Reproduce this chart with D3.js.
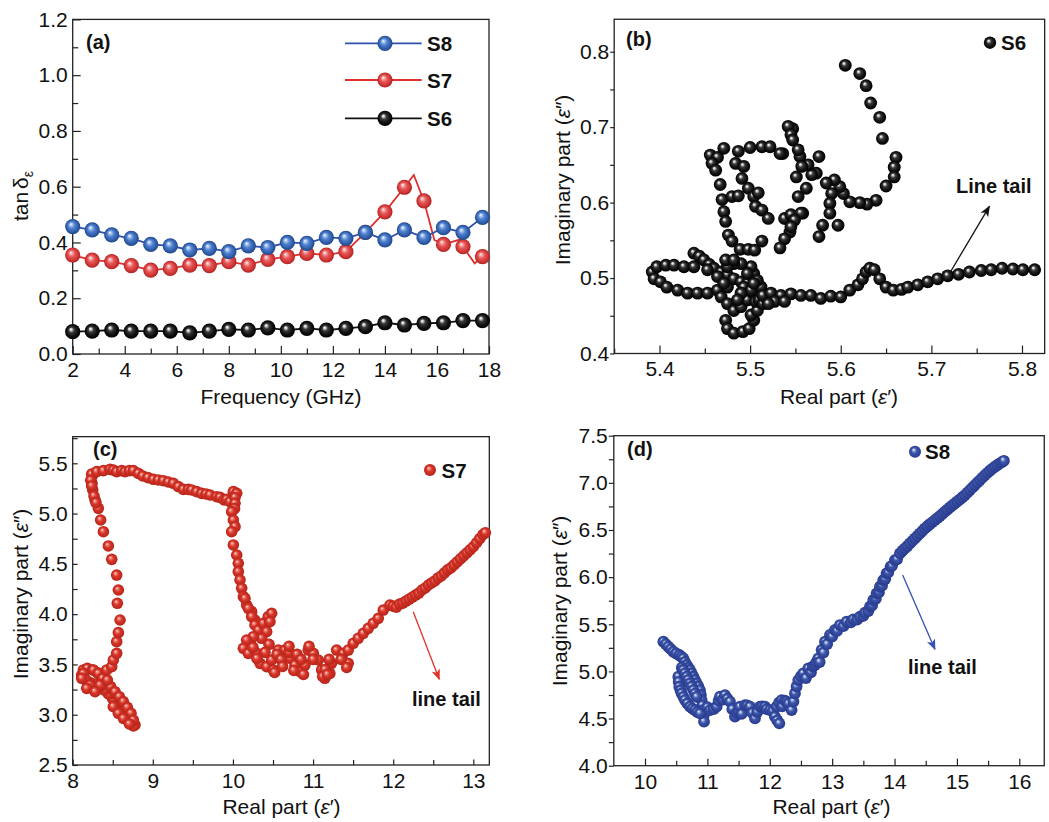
<!DOCTYPE html>
<html>
<head>
<meta charset="utf-8">
<script src="https://cdn.jsdelivr.net/npm/d3@7"></script>
<style>
  html, body { margin: 0; padding: 0; background: #fff; }
  svg { display: block; }
</style>
</head>
<body>
<svg id="fig" width="1049" height="822"></svg>
<script>
// ---------- (a) dielectric loss tangent vs frequency ----------
const freqGHz = [2, 2.75, 3.5, 4.25, 5, 5.75, 6.5, 7.25, 8, 8.75, 9.5, 10.25, 11, 11.75, 12.5, 13.25, 14, 14.75, 15.5, 16.25, 17, 17.75];
const tanS8 = [0.457, 0.445, 0.427, 0.415, 0.393, 0.388, 0.373, 0.379, 0.367, 0.388, 0.382, 0.400, 0.397, 0.418, 0.415, 0.436, 0.409, 0.445, 0.418, 0.453, 0.436, 0.490];
const tanS7 = [0.355, 0.337, 0.331, 0.317, 0.301, 0.307, 0.319, 0.317, 0.331, 0.319, 0.339, 0.349, 0.361, 0.355, 0.367, 0.436, 0.510, 0.598, 0.549, 0.393, 0.385, 0.349];
const tanS6 = [0.080, 0.082, 0.086, 0.082, 0.082, 0.082, 0.076, 0.082, 0.088, 0.086, 0.094, 0.086, 0.092, 0.086, 0.092, 0.098, 0.112, 0.104, 0.110, 0.112, 0.120, 0.120];
// S7 trace is sampled more finely than its symbols
const s7TraceFreq = [2, 2.75, 3.5, 4.25, 5, 5.75, 6.5, 7.25, 8, 8.75, 9.5, 10.25, 11, 11.75, 12.5, 13.25, 14, 14.75, 15.11, 15.5, 15.9, 16.25, 16.9, 17, 17.45, 17.75];
const s7TraceTan  = [0.355, 0.337, 0.331, 0.317, 0.301, 0.307, 0.319, 0.317, 0.331, 0.319, 0.339, 0.349, 0.361, 0.355, 0.367, 0.436, 0.510, 0.598, 0.642, 0.549, 0.409, 0.393, 0.411, 0.385, 0.325, 0.349];
const freqTicks = [2, 4, 6, 8, 10, 12, 14, 16, 18];
const tanTicks = [0, 0.2, 0.4, 0.6, 0.8, 1.0, 1.2];

// ---------- (b) Cole-Cole plot, S6 ----------
const s6Points = [
  [5.605,0.782],[5.621,0.771],[5.628,0.755],[5.633,0.732],[5.643,0.713],[5.646,0.685],
  [5.661,0.660],[5.659,0.647],[5.659,0.634],[5.650,0.622],[5.639,0.603],[5.629,0.598],[5.621,0.600],[5.610,0.601],[5.603,0.612],[5.599,0.621],[5.593,0.630],
  [5.590,0.612],[5.588,0.599],[5.588,0.586],[5.597,0.570],[5.580,0.570],[5.576,0.555],[5.584,0.626],[5.573,0.639],[5.568,0.637],[5.576,0.661],[5.564,0.650],
  [5.555,0.661],[5.547,0.698],[5.542,0.701],[5.545,0.690],[5.547,0.683],[5.553,0.670],[5.557,0.648],[5.551,0.634],[5.562,0.619],[5.553,0.608],[5.558,0.586],
  [5.549,0.581],[5.540,0.579],[5.544,0.561],[5.536,0.665],[5.538,0.552],[5.533,0.540],
  [5.456,0.663],[5.464,0.660],[5.471,0.672],[5.487,0.668],[5.500,0.673],[5.513,0.674],[5.522,0.674],[5.533,0.665],
  [5.458,0.652],[5.462,0.643],[5.467,0.624],[5.469,0.604],[5.471,0.588],[5.473,0.575],[5.476,0.557],[5.480,0.549],[5.489,0.538],[5.498,0.538],[5.505,0.537],[5.513,0.549],
  [5.484,0.652],[5.493,0.648],[5.491,0.632],[5.498,0.619],[5.504,0.608],[5.509,0.613],[5.506,0.595],[5.513,0.590],[5.520,0.579],
  [5.538,0.579],[5.545,0.584],[5.556,0.586],[5.549,0.577],[5.545,0.568],[5.480,0.608],[5.487,0.609],
  [5.392,0.508],[5.394,0.499],[5.397,0.515],[5.407,0.517],[5.416,0.517],[5.427,0.515],[5.438,0.515],
  [5.401,0.495],[5.408,0.488],[5.420,0.484],[5.431,0.480],[5.442,0.480],[5.453,0.480],[5.464,0.484],[5.475,0.488],
  [5.438,0.533],[5.444,0.529],[5.449,0.524],[5.455,0.518],[5.460,0.513],[5.468,0.508],[5.475,0.504],[5.482,0.499],[5.490,0.495],[5.497,0.493],
  [5.453,0.511],[5.464,0.502],[5.471,0.493],[5.468,0.475],[5.475,0.466],[5.482,0.457],[5.490,0.462],[5.497,0.471],[5.504,0.480],
  [5.504,0.506],[5.501,0.515],[5.490,0.519],[5.482,0.519],[5.475,0.515],[5.473,0.524],[5.482,0.524],
  [5.473,0.444],[5.475,0.433],[5.482,0.427],[5.492,0.429],[5.499,0.433],[5.504,0.444],[5.501,0.451],[5.508,0.457],[5.506,0.469],[5.512,0.488],[5.508,0.497],
  [5.497,0.506],[5.493,0.488],[5.501,0.484],[5.490,0.480],[5.486,0.471],[5.504,0.493],[5.510,0.471],[5.514,0.466],[5.519,0.471],
  [5.514,0.477],[5.523,0.480],[5.534,0.477],[5.545,0.479],[5.556,0.477],[5.567,0.477],[5.578,0.473],[5.589,0.476],[5.600,0.475],
  [5.527,0.469],[5.538,0.469],[5.520,0.466],
  [5.610,0.484],[5.619,0.491],[5.624,0.499],[5.628,0.508],[5.632,0.513],[5.637,0.511],[5.643,0.499],[5.650,0.488],[5.658,0.484],
  [5.667,0.485],[5.674,0.488],[5.685,0.491],[5.696,0.495],[5.707,0.499],[5.718,0.503],[5.730,0.505],[5.742,0.508],[5.755,0.510],
  [5.766,0.511],[5.778,0.513],[5.790,0.512],[5.801,0.511],[5.814,0.511]
];
const s6RealTicks = [5.4, 5.5, 5.6, 5.7, 5.8];
const s6ImagTicks = [0.4, 0.5, 0.6, 0.7, 0.8];

// ---------- (c) Cole-Cole plot, S7 ----------
const s7Points = [
  [8.778,2.898],[8.757,2.888],[8.736,2.938],[8.724,2.931],[8.695,2.981],[8.682,2.981],[8.653,3.020],[8.641,3.030],[8.599,3.063],[8.591,3.080],
  [8.549,3.113],[8.549,3.146],[8.499,3.160],[8.487,3.213],[8.445,3.206],[8.424,3.262],[8.391,3.246],[8.341,3.279],[8.279,3.305],[8.216,3.319],
  [8.154,3.352],[8.112,3.395],[8.133,3.445],[8.183,3.461],[8.250,3.445],[8.308,3.418],[8.362,3.378],[8.416,3.329],[8.474,3.279],[8.528,3.229],
  [8.582,3.179],[8.632,3.130],[8.682,3.073],[8.728,3.014],[8.757,2.947],[8.133,3.411],[8.166,3.345],[8.216,3.295],[8.258,3.445],[8.320,3.411],
  [8.374,3.362],[8.341,3.295],[8.433,3.345],[8.112,3.362],[8.175,3.262],[8.279,3.229],[8.507,3.080],[8.570,3.014],[8.632,2.964],[8.707,2.908],
  [8.424,3.445],[8.487,3.478],[8.507,3.544],[8.549,3.610],[8.549,3.726],[8.570,3.816],[8.591,3.942],[8.557,4.108],[8.570,4.240],[8.549,4.389],
  [8.487,4.545],[8.445,4.678],[8.383,4.820],[8.349,4.936],[8.320,5.052],[8.279,5.135],[8.250,5.235],[8.241,5.301],[8.250,5.384],
  [8.237,5.392],[8.225,5.331],[8.237,5.275],[8.266,5.175],[8.291,5.109],
  [8.300,5.417],[8.383,5.427],[8.466,5.440],[8.507,5.433],[8.549,5.417],[8.611,5.427],[8.653,5.417],[8.707,5.427],[8.757,5.427],[8.820,5.400],
  [8.874,5.374],[8.940,5.358],[9.007,5.341],[9.069,5.334],[9.131,5.327],[9.194,5.314],[9.256,5.301],[9.319,5.268],[9.381,5.241],[9.444,5.241],
  [9.485,5.235],[9.548,5.218],[9.610,5.201],[9.664,5.195],[9.714,5.185],[9.797,5.168],[9.839,5.161],[9.889,5.135],[9.922,5.142],[9.963,5.118],
  [10.005,5.218],[10.047,5.201],[10.026,5.160],[10.026,5.102],[10.020,5.050],[9.984,5.019],[10.005,4.936],[10.026,4.870],[9.984,4.820],[10.005,4.688],
  [10.047,4.588],[10.067,4.505],[10.067,4.422],[10.088,4.340],[10.109,4.257],[10.130,4.174],[10.171,4.091],[10.234,4.025],[10.275,3.942],
  [10.150,4.157],[10.192,4.058],[10.234,3.975],[10.275,3.892],[10.317,3.842],[10.379,3.909],[10.441,3.975],[10.483,4.008],[10.462,3.925],
  [10.421,3.826],[10.358,3.760],[10.254,3.776],[10.171,3.743],[10.130,3.660],[10.192,3.610],[10.296,3.610],[10.338,3.511],[10.421,3.478],
  [10.504,3.445],[10.483,3.544],[10.566,3.643],[10.649,3.643],[10.712,3.561],[10.774,3.494],[10.836,3.428],[10.899,3.494],[10.940,3.643],
  [11.003,3.610],[11.065,3.544],[11.107,3.445],[11.148,3.362],[11.210,3.411],[11.231,3.511],[11.294,3.643],[11.377,3.610],[11.439,3.511],
  [11.439,3.643],[10.550,3.600],[10.600,3.550],[10.700,3.620],[10.800,3.600],[10.850,3.550],[11.000,3.550],[11.150,3.450],[11.200,3.550],
  [11.350,3.550],[10.450,3.700],[10.400,3.620],[10.250,3.670],[10.520,3.420],[10.620,3.480],[10.760,3.440],[10.880,3.400],[11.120,3.380],
  [11.180,3.400],[11.420,3.470],[10.300,3.560],[10.700,3.680],[10.950,3.680],
  [11.502,3.710],[11.564,3.760],[11.627,3.809],[11.689,3.859],[11.751,3.909],[11.814,3.958],[11.876,4.041],[11.959,4.091],
  [12.000,4.080],[12.040,4.070],[12.080,4.100],[12.120,4.110],[12.160,4.130],[12.200,4.150],[12.240,4.170],[12.280,4.190],[12.320,4.210],
  [12.360,4.240],[12.400,4.260],[12.440,4.290],[12.480,4.310],[12.520,4.330],[12.560,4.360],[12.600,4.380],[12.640,4.410],[12.680,4.440],
  [12.720,4.460],[12.760,4.490],[12.800,4.520],[12.840,4.550],[12.880,4.580],[12.920,4.610],[12.960,4.640],[13.000,4.670],[13.040,4.710],
  [13.080,4.750],[13.120,4.790],[13.150,4.810]
];
const s7RealTicks = [8, 9, 10, 11, 12, 13];
const s7ImagTicks = [2.5, 3.0, 3.5, 4.0, 4.5, 5.0, 5.5];

// ---------- (d) Cole-Cole plot, S8 ----------
const s8Points = [
  [10.294,5.315],[10.334,5.290],[10.374,5.262],[10.414,5.236],[10.454,5.209],[10.500,5.190],[10.550,5.174],[10.584,5.156],[10.614,5.138],
  [10.640,5.100],[10.668,5.068],[10.695,5.040],[10.721,5.015],[10.748,4.980],[10.775,4.944],[10.800,4.910],[10.828,4.873],[10.855,4.840],
  [10.881,4.802],[10.895,4.750],[10.908,4.696],[10.920,4.640],[10.935,4.590],[10.940,4.530],[10.946,4.467],
  [10.534,4.944],[10.540,4.890],[10.550,4.838],[10.570,4.800],[10.588,4.767],[10.615,4.730],[10.641,4.696],[10.680,4.660],[10.721,4.626],
  [10.760,4.605],[10.801,4.590],[10.840,4.570],[10.881,4.555],
  [10.590,5.040],[10.614,5.015],[10.640,4.980],[10.668,4.944],[10.695,4.910],[10.721,4.873],[10.748,4.840],[10.775,4.802],[10.800,4.765],[10.828,4.731],
  [11.000,4.620],[11.042,4.590],[11.100,4.600],[11.149,4.626],[11.180,4.690],[11.202,4.732],[11.250,4.700],[11.282,4.749],[11.320,4.710],
  [11.362,4.679],[11.400,4.600],[11.442,4.520],[11.470,4.560],[11.500,4.580],[11.522,4.626],[11.550,4.550],[11.603,4.643],[11.640,4.640],
  [11.683,4.626],[11.720,4.560],[11.763,4.502],[11.800,4.570],[11.843,4.626],[11.880,4.630],[11.923,4.626],[11.950,4.600],[12.003,4.590],
  [12.050,4.580],[12.083,4.520],[12.120,4.480],[12.153,4.449],[12.110,4.626],[12.150,4.670],[12.190,4.696],[12.200,4.630],[12.240,4.690],
  [12.270,4.679],[12.300,4.660],[12.350,4.590],[12.380,4.680],[12.404,4.767],[12.430,4.840],[12.457,4.908],[12.500,4.950],[12.537,4.979],
  [12.580,4.930],[12.618,5.032],[12.660,4.990],[12.690,5.050],[12.724,5.068],[12.750,5.100],[12.778,5.138],[12.800,5.100],[12.831,5.227],
  [12.860,5.200],[12.885,5.315],[12.920,5.290],[12.965,5.386],[13.000,5.370],[13.045,5.439],[13.080,5.430],[13.125,5.492],[13.180,5.480],
  [13.232,5.527],[13.300,5.520],[13.339,5.552],[13.400,5.550],[13.446,5.580],[13.500,5.590],[13.526,5.623],[13.580,5.640],[13.606,5.686],
  [13.640,5.700],[13.659,5.757],[13.700,5.770],[13.713,5.828],[13.750,5.840],[13.766,5.898],[13.800,5.910],[13.819,5.969],[13.850,5.980],
  [13.873,6.040],[13.900,6.050],[13.937,6.110],[13.960,6.120],[14.006,6.181],[14.040,6.190],[14.087,6.252],[14.127,6.280],[14.167,6.305],
  [14.207,6.330],[14.247,6.358],[14.287,6.385],[14.327,6.411],[14.367,6.438],[14.407,6.464],[14.447,6.490],[14.487,6.517],[14.527,6.540],
  [14.567,6.563],[14.607,6.584],[14.647,6.605],[14.688,6.626],[14.728,6.648],[14.768,6.671],[14.808,6.694],[14.848,6.717],[14.888,6.740],
  [14.928,6.761],[14.968,6.782],[15.008,6.803],[15.048,6.824],[15.088,6.847],[15.128,6.870],[15.168,6.896],[15.208,6.923],[15.248,6.950],
  [15.288,6.976],[15.328,7.002],[15.369,7.029],[15.409,7.055],[15.449,7.082],[15.489,7.105],[15.529,7.128],[15.569,7.150],[15.609,7.171],
  [15.649,7.189],[15.689,7.206],[15.720,7.220],[15.753,7.234]
];
const s8RealTicks = [10, 11, 12, 13, 14, 15, 16];
const s8ImagTicks = [4.0, 4.5, 5.0, 5.5, 6.0, 6.5, 7.0, 7.5];

// annotation anchors, in data units of each panel: [xFrom, yFrom, xTo, yTo]
const tailArrowB = [5.720, 0.506, 5.764, 0.595];
const tailArrowC = [12.25, 4.024, 12.575, 3.352];
const tailArrowD = [14.13, 6.022, 14.647, 5.234];

// ------------------------------------------------------------
const FONT = "'Liberation Sans', Arial, Helvetica, sans-serif";
const FS = 21;
const svg = d3.select("#fig");
const defs = svg.append("defs");

function ballGradient(id, stops) {
  const g = defs.append("radialGradient").attr("id", id)
    .attr("cx", "50%").attr("cy", "50%").attr("r", "50%")
    .attr("fx", "37%").attr("fy", "33%");
  stops.forEach(([o, c]) => g.append("stop").attr("offset", o).attr("stop-color", c));
}
ballGradient("ballBlack", [["0%", "#ffffff"], ["14%", "#cfcfcf"], ["36%", "#3a3a3a"], ["70%", "#121212"], ["100%", "#000"]]);
ballGradient("ballBlue",  [["0%", "#ffffff"], ["16%", "#b3cbef"], ["45%", "#4d80cf"], ["80%", "#2f5ca8"], ["100%", "#214487"]]);
ballGradient("ballRed",   [["0%", "#ffffff"], ["16%", "#f5b3b3"], ["45%", "#e55656"], ["80%", "#d03434"], ["100%", "#a82222"]]);
ballGradient("ballRedC",  [["0%", "#ffe6e2"], ["18%", "#f08a80"], ["48%", "#d9362b"], ["100%", "#b52418"]]);
ballGradient("ballBlueD", [["0%", "#ffffff"], ["18%", "#9aaee0"], ["45%", "#3d56aa"], ["100%", "#27398c"]]);

function arrowMarker(id, color) {
  defs.append("marker").attr("id", id)
    .attr("viewBox", "0 0 10 8").attr("refX", 9).attr("refY", 4)
    .attr("markerWidth", 11).attr("markerHeight", 9)
    .attr("markerUnits", "userSpaceOnUse").attr("orient", "auto")
    .append("path").attr("d", "M0,0 L10,4 L0,8 L2.5,4 Z").attr("fill", color);
}
arrowMarker("arrK", "#111");
arrowMarker("arrR", "#e2332a");
arrowMarker("arrB", "#3450b0");

function styleAxis(g) {
  g.attr("font-family", null).attr("font-size", null);
  g.select(".domain").remove();
  g.selectAll("line").attr("stroke", "#222").attr("stroke-width", 1.2);
  g.selectAll("text").attr("fill", "#111").style("font-family", FONT).style("font-size", FS + "px");
}

// Draws ticks, labels and the frame of one panel
function drawAxes(p) {
  const { x, y, xTicks, xMinor, yTicks, yMinor, xFmt, yFmt, box } = p;
  const g = svg.append("g");
  const bx = g.append("g").attr("transform", `translate(0,${box.bottom})`)
    .call(d3.axisBottom(x).tickValues(xTicks).tickFormat(xFmt).tickSizeInner(-p.xMaj).tickSizeOuter(0).tickPadding(8));
  styleAxis(bx);
  const bxm = g.append("g").attr("transform", `translate(0,${box.bottom})`)
    .call(d3.axisBottom(x).tickValues(xMinor).tickFormat("").tickSizeInner(-p.xMin).tickSizeOuter(0));
  styleAxis(bxm);
  const yIn = p.yInward;
  const ly = g.append("g").attr("transform", `translate(${box.left},0)`)
    .call(d3.axisLeft(y).tickValues(yTicks).tickFormat(yFmt)
      .tickSizeInner(yIn ? -p.yMaj : p.yMaj).tickSizeOuter(0).tickPadding(yIn ? 5 : 1));
  styleAxis(ly);
  const lym = g.append("g").attr("transform", `translate(${box.left},0)`)
    .call(d3.axisLeft(y).tickValues(yMinor).tickFormat("").tickSizeInner(yIn ? -p.yMin : p.yMin).tickSizeOuter(0));
  styleAxis(lym);
  g.append("rect").attr("x", box.left).attr("y", box.top)
    .attr("width", box.right - box.left).attr("height", box.bottom - box.top)
    .attr("fill", "none").attr("stroke", "#222").attr("stroke-width", 1.3);
}

function text(x, y, str, opts = {}) {
  const t = svg.append("text").attr("x", x).attr("y", y)
    .style("font-family", FONT).style("font-size", (opts.size || FS) + "px")
    .attr("fill", opts.fill || "#111").attr("text-anchor", opts.anchor || "start");
  if (opts.bold) t.style("font-weight", "bold");
  if (str) t.text(str);
  return t;
}

function xTitle(cx, baseline) {
  const t = text(cx, baseline, "", { anchor: "middle" });
  t.append("tspan").text("Real part (");
  t.append("tspan").style("font-style", "italic").text("ε");
  t.append("tspan").text("′)");
}
function yTitleImag(bx, cy) {
  const t = text(0, 0, "", { anchor: "middle" }).attr("transform", `translate(${bx},${cy}) rotate(-90)`);
  t.append("tspan").text("Imaginary part (");
  t.append("tspan").style("font-style", "italic").text("ε");
  t.append("tspan").text("″)");
}

function balls(data, x, y, r, fill) {
  svg.append("g").selectAll("circle").data(data).join("circle")
    .attr("cx", d => x(d[0])).attr("cy", d => y(d[1])).attr("r", r)
    .attr("fill", `url(#${fill})`);
}

function arrow(a, x, y, marker, color) {
  svg.append("line")
    .attr("x1", x(a[0])).attr("y1", y(a[1])).attr("x2", x(a[2])).attr("y2", y(a[3]))
    .attr("stroke", color).attr("stroke-width", 1.3).attr("marker-end", `url(#${marker})`);
}

const f1 = d3.format(".1f");
const f0 = d3.format("d");

// ===== Panel (a) =====
{
  const x = d3.scaleLinear().domain([2, 18]).range([72.7, 489]);
  const y = d3.scaleLinear().domain([0, 1.2]).range([354, 19.4]);
  drawAxes({
    x, y, xTicks: freqTicks, xMinor: d3.range(3, 18, 2), yTicks: tanTicks,
    yMinor: [0.1, 0.3, 0.5, 0.7, 0.9, 1.1], xFmt: f0, yFmt: f1,
    xMaj: 8, xMin: 5.5, yMaj: 8, yMin: 5.5, yInward: true,
    box: { left: 72.7, right: 489, top: 19.4, bottom: 354 }
  });
  const line = d3.line().x(d => x(d[0])).y(d => y(d[1]));
  const series = [
    { vals: tanS6, trace: freqGHz.map((f, i) => [f, tanS6[i]]), col: "#111", grad: "ballBlack" },
    { vals: tanS7, trace: s7TraceFreq.map((f, i) => [f, s7TraceTan[i]]), col: "#e0302e", grad: "ballRed" },
    { vals: tanS8, trace: freqGHz.map((f, i) => [f, tanS8[i]]), col: "#2c52ad", grad: "ballBlue" }
  ];
  series.forEach(s => {
    svg.append("path").attr("d", line(s.trace)).attr("fill", "none")
      .attr("stroke", s.col).attr("stroke-width", 1.8);
    balls(freqGHz.map((f, i) => [f, s.vals[i]]), x, y, 7.6, s.grad);
  });
  // legend
  const leg = [["S8", "#2c52ad", "ballBlue", 43.3], ["S7", "#e0302e", "ballRed", 80], ["S6", "#111", "ballBlack", 118.3]];
  leg.forEach(([lab, col, grad, ly]) => {
    svg.append("line").attr("x1", 345).attr("x2", 421.7).attr("y1", ly).attr("y2", ly)
      .attr("stroke", col).attr("stroke-width", 1.8);
    svg.append("circle").attr("cx", 385).attr("cy", ly).attr("r", 7.6).attr("fill", `url(#${grad})`);
    text(427, ly + 7.6, lab, { bold: true, size: 20.5 });
  });
  text(86, 48.5, "(a)", { bold: true, size: 20 });
  text(281, 404, "Frequency (GHz)", { anchor: "middle" });
  const yt = text(0, 0, "", { anchor: "middle" }).attr("transform", "translate(28,196) rotate(-90)");
  yt.append("tspan").text("tan");
  yt.append("tspan").attr("dx", 3).text("δ");
  yt.append("tspan").attr("dy", 5).style("font-size", "14px").text("ε");
}

// ===== Panel (b) =====
{
  const x = d3.scaleLinear().domain([5.4, 5.8]).range([659.5, 1022]);
  const y = d3.scaleLinear().domain([0.4, 0.8]).range([353.5, 51.7]);
  const box = { left: x(5.35), right: x(5.825), top: y(0.843), bottom: y(0.4) };
  drawAxes({
    x, y, xTicks: s6RealTicks, xMinor: [5.35, 5.45, 5.55, 5.65, 5.75], yTicks: s6ImagTicks,
    yMinor: [0.45, 0.55, 0.65, 0.75], xFmt: f1, yFmt: f1,
    xMaj: 8, xMin: 5, yMaj: 4, yMin: 4, yInward: false, box
  });
  balls(s6Points, x, y, 6.4, "ballBlack");
  svg.append("circle").attr("cx", 990).attr("cy", 42.7).attr("r", 6.2).attr("fill", "url(#ballBlack)");
  text(1001, 50, "S6", { bold: true, size: 20.5 });
  text(626, 46, "(b)", { bold: true, size: 20 });
  arrow(tailArrowB, x, y, "arrK", "#111");
  text(956, 192.5, "Line tail", { bold: true, size: 20 });
  xTitle(839, 404);
  yTitleImag(570, 180);
}

// ===== Panel (c) =====
{
  const x = d3.scaleLinear().domain([8, 13]).range([72.7, 473.3]);
  const y = d3.scaleLinear().domain([2.5, 5.5]).range([765, 463.3]);
  const box = { left: x(8), right: x(13.2), top: y(5.765), bottom: y(2.5) };
  drawAxes({
    x, y, xTicks: s7RealTicks, xMinor: [8.5, 9.5, 10.5, 11.5, 12.5], yTicks: s7ImagTicks,
    yMinor: [2.75, 3.25, 3.75, 4.25, 4.75, 5.25, 5.75], xFmt: f0, yFmt: f1,
    xMaj: 5.5, xMin: 5, yMaj: 5, yMin: 5, yInward: true, box
  });
  balls(s7Points, x, y, 5.8, "ballRedC");
  svg.append("circle").attr("cx", 430).attr("cy", 470).attr("r", 6).attr("fill", "url(#ballRedC)");
  text(441.5, 478, "S7", { bold: true, size: 20.5 });
  text(93, 456, "(c)", { bold: true, size: 20 });
  arrow(tailArrowC, x, y, "arrR", "#e2332a");
  text(412, 706, "line tail", { bold: true, size: 20 });
  xTitle(281.5, 814);
  yTitleImag(28, 594);
}

// ===== Panel (d) =====
{
  const x = d3.scaleLinear().domain([10, 16]).range([645, 1019.3]);
  const y = d3.scaleLinear().domain([4, 7.5]).range([765.7, 435.7]);
  const box = { left: x(9.5), right: x(16.4), top: y(7.5), bottom: y(4) };
  drawAxes({
    x, y, xTicks: s8RealTicks, xMinor: [10.5, 11.5, 12.5, 13.5, 14.5, 15.5], yTicks: s8ImagTicks,
    yMinor: [4.25, 4.75, 5.25, 5.75, 6.25, 6.75, 7.25], xFmt: f0, yFmt: f1,
    xMaj: 7, xMin: 5, yMaj: 5, yMin: 5, yInward: false, box
  });
  balls(s8Points, x, y, 5.9, "ballBlueD");
  svg.append("circle").attr("cx", 915).attr("cy", 451.7).attr("r", 6).attr("fill", "url(#ballBlueD)");
  text(925, 459, "S8", { bold: true, size: 20.5 });
  text(627, 456, "(d)", { bold: true, size: 20 });
  arrow(tailArrowD, x, y, "arrB", "#3450b0");
  text(908, 674, "line tail", { bold: true, size: 20 });
  xTitle(831.5, 814);
  yTitleImag(567, 601);
}
</script>
</body>
</html>
